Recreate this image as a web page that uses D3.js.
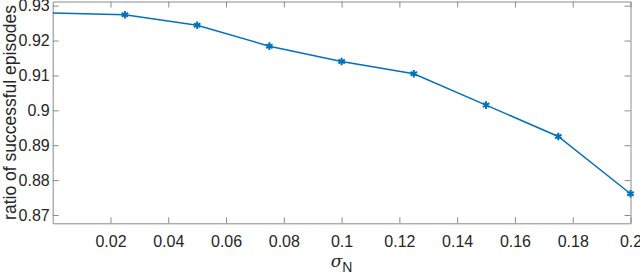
<!DOCTYPE html>
<html>
<head>
<meta charset="utf-8">
<script src="https://cdn.jsdelivr.net/npm/d3@7"></script>
<style>
  body { margin: 0; background: #fff; }
  text { font-family: "Liberation Sans", Arial, sans-serif; fill: #262626; }
</style>
</head>
<body>
<div id="chart"></div>
<script>
var sigmaN = [0, 0.025, 0.05, 0.075, 0.1, 0.125, 0.15, 0.175, 0.2];
var ratio = [0.9279, 0.9274, 0.9244, 0.9184, 0.9140, 0.9105, 0.9015, 0.8925, 0.8761];
var xTicks = [0.02, 0.04, 0.06, 0.08, 0.1, 0.12, 0.14, 0.16, 0.18, 0.2];
var yTicks = [0.87, 0.88, 0.89, 0.9, 0.91, 0.92, 0.93];

var width = 640, height = 275;
var margin = {top: 1.5, right: 9.5, bottom: 51.7, left: 52.7};

var svg = d3.select("#chart").append("svg")
    .attr("width", width)
    .attr("height", height);

var x = d3.scaleLinear()
    .domain([0, 0.2])
    .range([margin.left, width - margin.right]);

var y = d3.scaleLinear()
    .domain([0.86762, 0.9312])
    .range([height - margin.bottom, margin.top]);

var axisColor = "#8c8c8c";
var fmt = function(d) { return d3.format("")(+d.toFixed(2)); };

// bottom axis, ticks pointing in
svg.append("g")
    .attr("transform", "translate(0," + y.range()[0] + ")")
    .call(d3.axisBottom(x).tickValues(xTicks).tickSizeInner(-6).tickSizeOuter(0).tickPadding(12).tickFormat(fmt));

// top axis, no labels
svg.append("g")
    .attr("transform", "translate(0," + y.range()[1] + ")")
    .call(d3.axisTop(x).tickValues(xTicks).tickSizeInner(-6).tickSizeOuter(0).tickFormat(""));

// left axis
svg.append("g")
    .attr("transform", "translate(" + x.range()[0] + ",0)")
    .call(d3.axisLeft(y).tickValues(yTicks).tickSizeInner(-6).tickSizeOuter(0).tickPadding(3).tickFormat(fmt));

// right axis, no labels
svg.append("g")
    .attr("transform", "translate(" + x.range()[1] + ",0)")
    .call(d3.axisRight(y).tickValues(yTicks).tickSizeInner(-6).tickSizeOuter(0).tickFormat(""));

svg.selectAll(".domain").attr("stroke", axisColor).attr("stroke-width", 1);
svg.selectAll(".tick line").attr("stroke", axisColor).attr("stroke-width", 1);
svg.selectAll(".tick text")
    .attr("font-size", 16)
    .attr("fill", "#262626")
    .style("font-family", "'Liberation Sans', Arial, sans-serif");

// line
var line = d3.line()
    .x(function(d, i) { return x(sigmaN[i]); })
    .y(function(d) { return y(d); });

svg.append("path")
    .datum(ratio)
    .attr("fill", "none")
    .attr("stroke", "#0072BD")
    .attr("stroke-width", 1.5)
    .attr("d", line);

// asterisk markers (first point has none, as in the original)
var star = d3.symbol().type(d3.symbolAsterisk).size(40);
svg.append("g").selectAll("path")
    .data(ratio.slice(1))
    .enter().append("path")
    .attr("transform", function(d, i) { return "translate(" + x(sigmaN[i + 1]) + "," + y(d) + ")"; })
    .attr("d", star)
    .attr("fill", "none")
    .attr("stroke", "#0072BD")
    .attr("stroke-width", 2);

// axis labels
svg.append("text")
    .attr("transform", "translate(16," + ((y.range()[0] + y.range()[1]) / 2) + ") rotate(-90)")
    .attr("text-anchor", "middle")
    .attr("font-size", 17.5)
    .text("ratio of successful episodes");

var xl = svg.append("text")
    .attr("x", (x.range()[0] + x.range()[1]) / 2)
    .attr("y", 267)
    .attr("text-anchor", "middle")
    .attr("font-size", 17);
xl.append("tspan").attr("font-style", "italic").attr("font-family", "'DejaVu Serif', serif").text("σ");
xl.append("tspan").attr("font-size", 14).attr("dy", 5).text("N");
</script>
</body>
</html>
